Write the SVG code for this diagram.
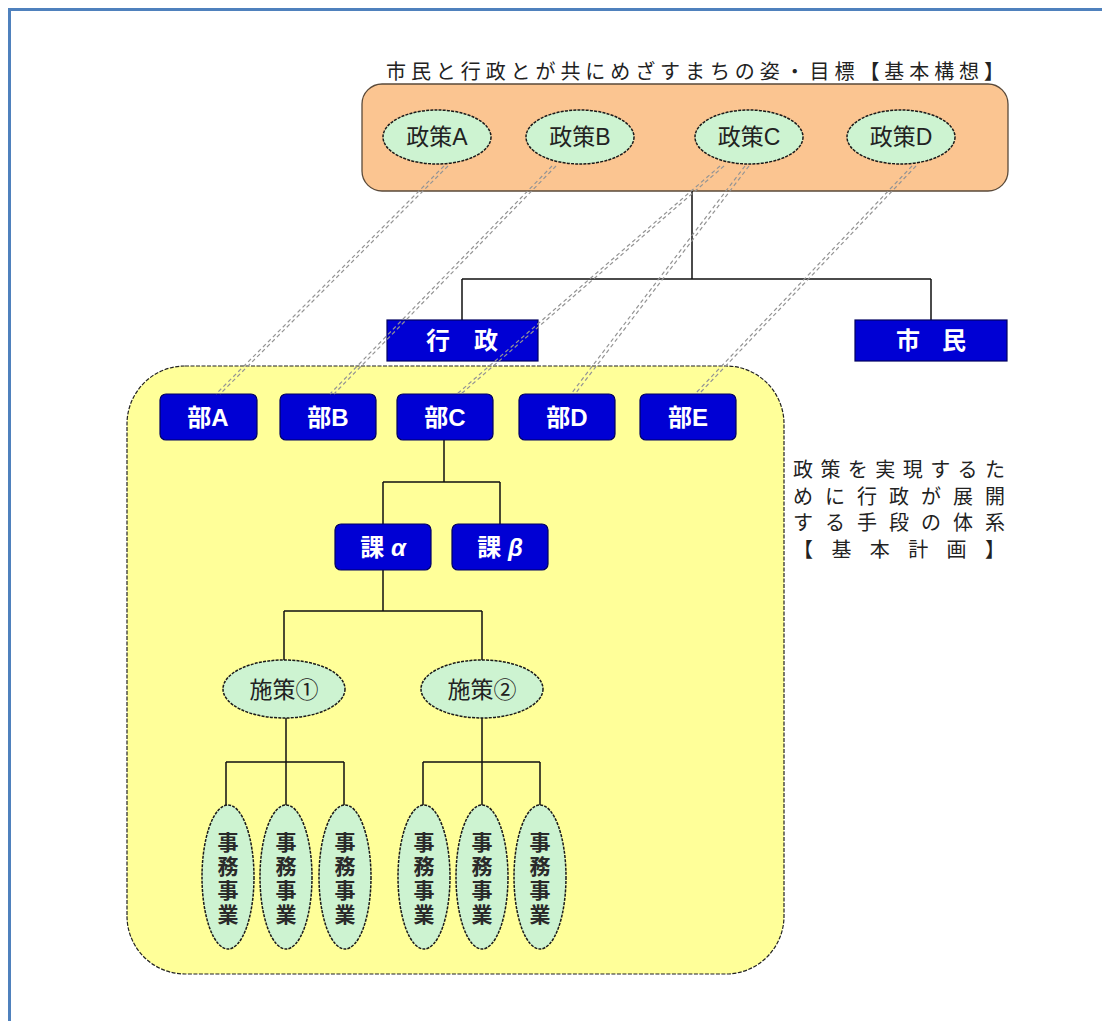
<svg xmlns="http://www.w3.org/2000/svg" width="1102" height="1021" viewBox="0 0 1102 1021">
<style>
.cap{font-family:"Noto Sans CJK JP",sans-serif;font-size:20px;fill:#222;}
.oval{fill:#cdf3d1;stroke:#1a1a1a;stroke-width:1.5;stroke-dasharray:3 1.2;}
.ovt{font-family:"Liberation Sans","Noto Sans CJK JP",sans-serif;font-size:23px;fill:#222;text-anchor:middle;}
.vt{font-family:"Noto Sans CJK JP",sans-serif;font-size:21px;font-weight:bold;fill:#2a2a2a;text-anchor:middle;writing-mode:vertical-rl;letter-spacing:3px;}
.blue{fill:#0000d4;stroke:#000060;stroke-width:1.2;}
.bt{font-family:"Liberation Sans","Noto Sans CJK JP",sans-serif;font-size:24px;font-weight:bold;fill:#fff;text-anchor:middle;}
.ln{fill:none;stroke:#111;stroke-width:1.5;}
.dash{fill:none;stroke:#949494;stroke-width:1.2;stroke-dasharray:4 3;}
</style>

<rect x="9.5" y="9.5" width="1200" height="1100" fill="#fff" stroke="#4f81bd" stroke-width="3"/>

<g id="kihon-koso">
  <text class="cap" x="386" y="79" font-size="22" textLength="618" lengthAdjust="spacing">市民と行政とが共にめざすまちの姿・目標【基本構想】</text>
  <rect x="362" y="84" width="646" height="107" rx="20" fill="#fbc591" stroke="#5a4a3a" stroke-width="1.3"/>
</g>

<g id="kihon-keikaku">
  <rect x="127" y="366" width="657" height="608" rx="58" fill="#ffff99" stroke="#222" stroke-width="1.2" stroke-dasharray="4 1.5"/>
  <text class="cap" font-size="18" x="793" y="477" textLength="212" lengthAdjust="spacing">政策を実現するた</text>
  <text class="cap" font-size="18" x="793" y="503.5" textLength="212" lengthAdjust="spacing">めに行政が展開</text>
  <text class="cap" font-size="18" x="793" y="530" textLength="212" lengthAdjust="spacing">する手段の体系</text>
  <text class="cap" font-size="18" x="793" y="556.5" textLength="212" lengthAdjust="spacing">【 基 本 計 画 】</text>
</g>

<g id="connectors">
  <path class="ln" d="M692 191V279M462 279H931M462 279V320M931 279V320"/>
  <path class="ln" d="M444 440V482M383 482H500M383 482V524M500 482V524"/>
  <path class="ln" d="M383 570V611M284 611H482M284 611V660M482 611V660"/>
  <path class="ln" d="M286 718V762M226 762H344M226 762V805M286 762V805M344 762V805"/>
  <path class="ln" d="M482 718V762M423 762H540M423 762V805M482 762V805M540 762V805"/>
</g>

<g id="seisaku-a"><ellipse class="oval" cx="437" cy="137" rx="54" ry="27"/><text class="ovt" x="437" y="145">政策A</text></g>
<g id="seisaku-b"><ellipse class="oval" cx="580" cy="137" rx="54" ry="27"/><text class="ovt" x="580" y="145">政策B</text></g>
<g id="seisaku-c"><ellipse class="oval" cx="749" cy="137" rx="54" ry="27"/><text class="ovt" x="749" y="145">政策C</text></g>
<g id="seisaku-d"><ellipse class="oval" cx="901" cy="137" rx="54" ry="27"/><text class="ovt" x="901" y="145">政策D</text></g>

<g id="gyosei"><rect class="blue" x="387" y="320" width="151" height="41"/><text class="bt" x="462" y="349" font-size="23" textLength="72" lengthAdjust="spacing">行 政</text></g>
<g id="shimin"><rect class="blue" x="855" y="320" width="152" height="41"/><text class="bt" x="931" y="349" font-size="23" textLength="70" lengthAdjust="spacing">市 民</text></g>

<g id="bu-a"><rect class="blue" x="160" y="394" width="97" height="46" rx="6"/><text class="bt" x="208" y="426">部A</text></g>
<g id="bu-b"><rect class="blue" x="280" y="394" width="96" height="46" rx="6"/><text class="bt" x="328" y="426">部B</text></g>
<g id="bu-c"><rect class="blue" x="397" y="394" width="96" height="46" rx="6"/><text class="bt" x="445" y="426">部C</text></g>
<g id="bu-d"><rect class="blue" x="519" y="394" width="96" height="46" rx="6"/><text class="bt" x="567" y="426">部D</text></g>
<g id="bu-e"><rect class="blue" x="640" y="394" width="96" height="46" rx="6"/><text class="bt" x="688" y="426">部E</text></g>

<g id="ka-alpha"><rect class="blue" x="335" y="524" width="96" height="46" rx="6"/><text class="bt" x="383" y="556">課 <tspan font-style="italic">α</tspan></text></g>
<g id="ka-beta"><rect class="blue" x="452" y="524" width="96" height="46" rx="6"/><text class="bt" x="500" y="556">課 <tspan font-style="italic">β</tspan></text></g>

<g id="shisaku-1"><ellipse class="oval" cx="284" cy="689" rx="61" ry="29"/><text class="ovt" x="284" y="698" font-size="24">施策①</text></g>
<g id="shisaku-2"><ellipse class="oval" cx="482" cy="689" rx="61" ry="29"/><text class="ovt" x="482" y="698" font-size="24">施策②</text></g>

<g id="jimu-1"><ellipse class="oval" cx="228" cy="877" rx="26" ry="72"/><text class="vt" x="228" y="880">事務事業</text></g>
<g id="jimu-2"><ellipse class="oval" cx="286" cy="877" rx="26" ry="72"/><text class="vt" x="286" y="880">事務事業</text></g>
<g id="jimu-3"><ellipse class="oval" cx="345" cy="877" rx="26" ry="72"/><text class="vt" x="345" y="880">事務事業</text></g>
<g id="jimu-4"><ellipse class="oval" cx="424" cy="877" rx="26" ry="72"/><text class="vt" x="424" y="880">事務事業</text></g>
<g id="jimu-5"><ellipse class="oval" cx="482" cy="877" rx="26" ry="72"/><text class="vt" x="482" y="880">事務事業</text></g>
<g id="jimu-6"><ellipse class="oval" cx="540" cy="877" rx="26" ry="72"/><text class="vt" x="540" y="880">事務事業</text></g>

<g id="dashed-links">
  <path class="dash" d="M444 166L216 394M448 166L220 394"/>
  <path class="dash" d="M552 166L330 394M556 166L334 394"/>
  <path class="dash" d="M720 166L457 394M724 166L461 394"/>
  <path class="dash" d="M745 166L571 394M749 166L575 394"/>
  <path class="dash" d="M912 166L695 394M916 166L699 394"/>
</g>
</svg>
